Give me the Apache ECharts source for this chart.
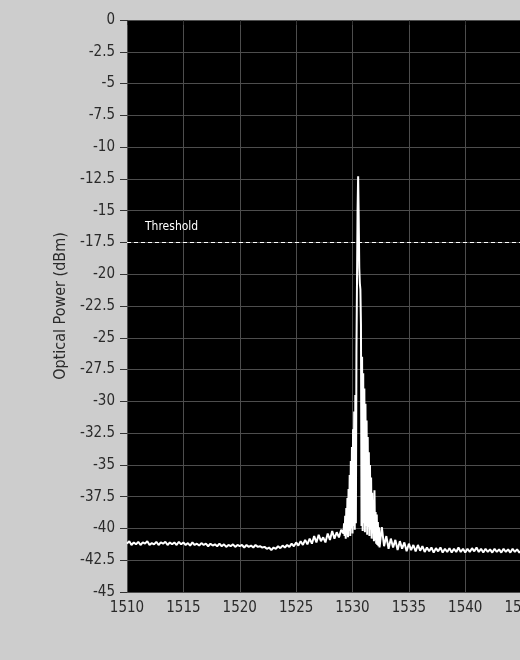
<!DOCTYPE html>
<html>
<head>
<meta charset="utf-8">
<script src="https://cdn.jsdelivr.net/npm/echarts@6/dist/echarts.min.js"></script>
<style>
html,body{margin:0;padding:0;background:#cdcdcd;}
#c{width:520px;height:660px;}
</style>
</head>
<body>
<div id="c"></div>
<script>
// Axis ranges / ticks
const xMin = 1510, xMax = 1550, xStep = 5;
const yMin = -45, yMax = 0, yStep = 2.5;
const thresholdLevel = -17.5;
const thresholdLabel = 'Threshold';
const yAxisTitle = 'Optical Power (dBm)';

// Left baseline segment: sampled every 0.2 nm starting at 1510.0
const leftStart = 1510.0, leftStep = 0.2;
const leftPower = [
  -41.2,-41.0,-41.3,-41.1,-41.25,-41.05,-41.3,-41.1,-41.2,-41.0,-41.3,-41.15,-41.25,-41.05,-41.3,-41.1,-41.2,-41.05,-41.3,-41.1,-41.25,
  -41.1,-41.3,-41.05,-41.25,-41.1,-41.3,-41.15,-41.35,-41.1,-41.3,-41.2,-41.35,-41.15,-41.3,-41.2,-41.4,-41.2,-41.35,-41.25,-41.4,
  -41.2,-41.4,-41.25,-41.45,-41.3,-41.4,-41.25,-41.45,-41.3,-41.4,-41.3,-41.5,-41.3,-41.45,-41.35,-41.5,-41.3,-41.45,-41.4,-41.5,
  -41.45,-41.6,-41.5,-41.7,-41.5,-41.6,-41.4,-41.55,-41.35,-41.5,-41.3,-41.45,-41.2,-41.4,-41.1,-41.35,-41.0,-41.3,-40.9,-41.25,
  -40.8,-41.2,-40.6,-41.1,-40.5,-41.0,-40.7,-41.1,-40.4,-40.9,-40.2,-40.8,-40.3,-40.7,-40.1,-40.4
];

// Peak region: wavelengths (nm) and power (dBm)
const peakWl = [
  1529.25,1529.30,1529.35,1529.40,1529.45,1529.50,1529.55,1529.60,1529.65,1529.70,
  1529.75,1529.80,1529.85,1529.90,1529.95,1530.00,1530.05,1530.10,1530.15,1530.20,
  1530.25,1530.30,1530.35,1530.40,1530.45,1530.50,1530.55,1530.60,1530.65,1530.70,
  1530.75,1530.80,1530.85,1530.90,1530.95,1531.00,1531.05,1531.10,1531.15,1531.20,
  1531.25,1531.30,1531.35,1531.40,1531.45,1531.50,1531.55,1531.60,1531.65,1531.70,
  1531.75,1531.80,1531.85,1531.90,1531.95,1532.00,1532.05,1532.10,1532.15,1532.20,
  1532.25,1532.30,1532.35,1532.40
];
const peakPower = [
  -39.6,-40.6,-39.0,-40.8,-38.4,-40.5,-37.6,-40.7,-36.9,-40.2,
  -35.8,-40.6,-34.7,-40.0,-33.6,-40.4,-32.2,-39.8,-30.8,-40.1,
  -29.5,-39.6,-26.0,-20.5,-15.0,-12.3,-15.5,-19.5,-20.7,-21.2,
  -24.0,-39.8,-26.5,-40.2,-27.8,-39.6,-29.0,-40.3,-30.2,-39.8,
  -31.5,-40.5,-32.8,-39.9,-34.0,-40.6,-35.0,-40.1,-36.0,-40.8,
  -37.2,-40.4,-37.8,-41.0,-37.0,-40.9,-38.7,-41.2,-38.9,-41.3,
  -39.5,-41.4,-39.9,-41.5
];

// Right baseline segment: sampled every 0.2 nm starting at 1532.6
const rightStart = 1532.6, rightStep = 0.2;
const rightPower = [
  -39.9,-41.4,-40.6,-41.6,-40.8,-41.5,-40.9,-41.7,-41.0,-41.6,
  -41.1,-41.8,-41.2,-41.7,-41.3,-41.8,-41.3,-41.75,-41.4,-41.85,
  -41.5,-41.8,-41.5,-41.9,-41.55,-41.8,-41.5,-41.9,-41.6,-41.85,
  -41.55,-41.9,-41.6,-41.85,-41.5,-41.85,-41.6,-41.9,-41.6,-41.85,
  -41.55,-41.8,-41.5,-41.85,-41.6,-41.9,-41.6,-41.85,-41.65,-41.9,
  -41.6,-41.85,-41.65,-41.9,-41.6,-41.85,-41.65,-41.9,-41.6,-41.85,
  -41.65,-41.9,-41.7
];

const spectrum = [];
leftPower.forEach((p, i) => spectrum.push([+(leftStart + i * leftStep).toFixed(2), p]));
peakWl.forEach((w, i) => spectrum.push([w, peakPower[i]]));
rightPower.forEach((p, i) => spectrum.push([+(rightStart + i * rightStep).toFixed(2), p]));

const font = '"DejaVu Sans Condensed", "DejaVu Sans", "Liberation Sans", sans-serif';
const chart = echarts.init(document.getElementById('c'), null, {renderer: 'canvas'});
chart.setOption({
  backgroundColor: '#cdcdcd',
  animation: false,
  grid: {
    left: 127, top: 20, width: 451, bottom: 68,
    outerBoundsMode: 'none', containLabel: false,
    show: true, backgroundColor: '#000000', borderWidth: 0
  },
  xAxis: {
    type: 'value', min: xMin, max: xMax, interval: xStep,
    axisLine: {show: false},
    axisTick: {show: true, length: 5, lineStyle: {color: '#333'}},
    axisLabel: {color: '#2a2a2a', fontSize: 15, fontFamily: font, margin: 9,
      formatter: v => String(v)},
    splitLine: {show: true, lineStyle: {color: '#4d4d4d', width: 1}}
  },
  yAxis: {
    type: 'value', min: yMin, max: yMax, interval: yStep,
    name: yAxisTitle, nameLocation: 'middle', nameGap: 57,
    nameTextStyle: {color: '#2a2a2a', fontSize: 16, fontFamily: font},
    axisLine: {show: false},
    axisTick: {show: true, length: 7, lineStyle: {color: '#333'}},
    axisLabel: {color: '#2a2a2a', fontSize: 15, fontFamily: font, margin: 12,
      formatter: v => String(v)},
    splitLine: {show: true, lineStyle: {color: '#4d4d4d', width: 1}}
  },
  series: [{
    type: 'line',
    data: spectrum,
    showSymbol: false,
    symbol: 'none',
    lineStyle: {color: '#ffffff', width: 2},
    markLine: {
      silent: true,
      symbol: ['none', 'none'],
      data: [{yAxis: thresholdLevel}],
      lineStyle: {color: '#ffffff', type: [4, 3], width: 1},
      label: {
        show: true, formatter: thresholdLabel, position: 'insideStartTop',
        color: '#ffffff', fontSize: 12, fontFamily: font, distance: [18, 10]
      }
    }
  }]
});
</script>
</body>
</html>
